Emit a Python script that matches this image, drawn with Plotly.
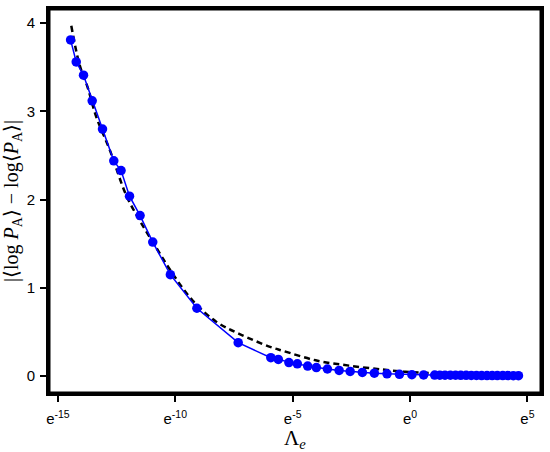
import numpy as np
import plotly.graph_objects as go

# ln(Lambda_e) of the simulated points, and the measured gap
sim_log_lambda = [-14.46, -14.22, -13.91, -13.54, -13.10, -12.62, -12.31, -11.95, -11.50,
                  -10.96, -10.21, -9.08, -7.32, -5.93, -5.61, -5.16, -4.80, -4.36, -3.99,
                  -3.52, -3.02, -2.55, -2.03, -1.52, -0.98, -0.45, 0.08, 0.58,
                  1.05, 1.27, 1.49, 1.72, 1.94, 2.16, 2.39, 2.61, 2.83, 3.05, 3.28,
                  3.50, 3.72, 3.95, 4.17, 4.40, 4.62]
sim_gap = [3.81, 3.56, 3.41, 3.12, 2.80, 2.44, 2.33, 2.04, 1.82,
           1.52, 1.15, 0.77, 0.38, 0.21, 0.19, 0.155, 0.14, 0.115, 0.098,
           0.082, 0.066, 0.054, 0.043, 0.034, 0.027, 0.022, 0.018, 0.015,
           0.013, 0.012, 0.012, 0.011, 0.011, 0.010, 0.010, 0.009, 0.009, 0.008, 0.008,
           0.008, 0.007, 0.007, 0.007, 0.006, 0.006]

# theory curve (dashed)
fit_log_lambda = [-14.43, -14.08, -13.73, -13.37, -12.80, -12.09, -11.53, -10.82, -10.11,
                  -9.27, -8.27, -7.28, -5.93, -5.44, -4.02, -2.60, -1.15, -0.20,
                  0.60, 2.00, 3.50, 4.62]
fit_gap = [3.97, 3.53, 3.27, 2.94, 2.57, 2.05, 1.77, 1.46, 1.16,
           0.86, 0.62, 0.48, 0.33, 0.29, 0.18, 0.12, 0.075, 0.05,
           0.04, 0.025, 0.015, 0.01]

tick_exps = [-15, -10, -5, 0, 5]
tick_labels = ['e<sup>%d</sup>' % e for e in tick_exps]

fig = go.Figure()
fig.add_trace(go.Scatter(
    x=np.exp(fit_log_lambda), y=fit_gap,
    mode='lines', line=dict(color='black', width=2.5, dash='6px,4px', shape='spline'),
    showlegend=False
))
fig.add_trace(go.Scatter(
    x=np.exp(sim_log_lambda), y=sim_gap,
    mode='lines+markers',
    line=dict(color='#0000ff', width=1.5),
    marker=dict(color='#0000ff', size=9.5),
    showlegend=False
))

fig.update_layout(
    width=550, height=452,
    margin=dict(l=49, r=7, t=6, b=54),
    plot_bgcolor='white', paper_bgcolor='white',
    font=dict(family='Liberation Sans, Arial', size=15, color='black'),
    # thick box round the plot area
    shapes=[dict(type='rect', xref='x domain', yref='y domain', x0=0, x1=1, y0=0, y1=1,
                 line=dict(color='black', width=3), layer='above')],
)
fig.update_xaxes(
    type='log',
    range=[-15.38 / np.log(10), 5.58 / np.log(10)],
    tickvals=[np.exp(e) for e in tick_exps],
    ticktext=tick_labels,
    ticks='outside', ticklen=6, tickwidth=2, tickcolor='black', ticklabelstandoff=4,
    showline=True, linewidth=3, linecolor='black', mirror=True,
    showgrid=False, zeroline=False,
    title=dict(text='Λ<sub><i>e</i></sub>', font=dict(family='Liberation Serif', size=21), standoff=4),
)
fig.update_yaxes(
    range=[-0.19, 4.16],
    tickvals=[0, 1, 2, 3, 4],
    ticks='outside', ticklen=6, tickwidth=2, tickcolor='black', ticklabelstandoff=2,
    showline=True, linewidth=3, linecolor='black', mirror=True,
    showgrid=False, zeroline=False,
    title=dict(text='|⟨log <i>P</i><sub>A</sub>⟩ − log⟨<i>P</i><sub>A</sub>⟩|',
               font=dict(family='Liberation Serif', size=20), standoff=4),
)

# page body has a default 8px margin; drop it so the 550x452 figure fills the window
fig.write_html("out.html", config={'displayModeBar': False},
               post_script="document.body.style.margin='0';")
